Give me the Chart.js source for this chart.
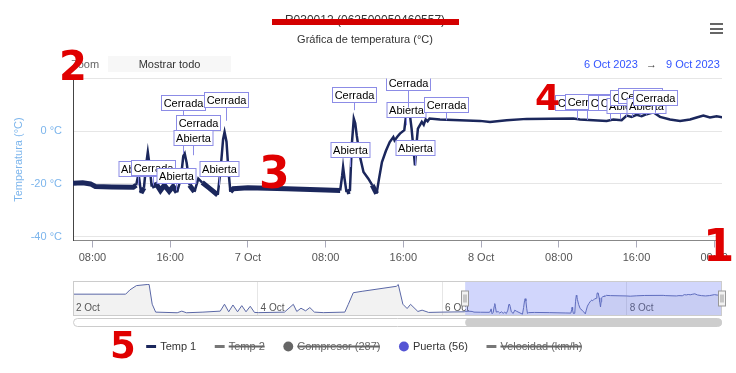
<!DOCTYPE html>
<html>
<head>
<meta charset="utf-8">
<script src="https://cdn.jsdelivr.net/npm/chart.js@4.4.0/dist/chart.umd.min.js"></script>
<style>
  html, body { margin: 0; padding: 0; background: #fff; }
  #wrap { position: relative; width: 736px; height: 373px; font-family: "Liberation Sans", Arial, sans-serif; }
  #mainChart { position: absolute; left: 0; top: 0; }
  #navChart { position: absolute; left: 0; top: 270px; }
  .ov { position: absolute; white-space: nowrap; font-size: 11px; line-height: 14px; }
  .red { position: absolute; color: #e00000; font-family: "DejaVu Sans", sans-serif; font-weight: bold; line-height: 1; z-index: 5; }
  .bar { position: absolute; left: 710px; width: 13px; height: 2px; background: #666; }
</style>
</head>
<body>
<div id="wrap">
  <canvas id="mainChart" width="736" height="373"></canvas>
  <canvas id="navChart" width="736" height="62"></canvas>

  <div style="position:absolute;left:272px;top:19px;width:187px;height:6px;background:#d40000;"></div>
  <div class="bar" style="top:23px"></div>
  <div class="bar" style="top:27.5px"></div>
  <div class="bar" style="top:32px"></div>

  <div class="ov" style="left:71px;top:57px;color:#666;">Zoom</div>
  <div class="ov" style="left:108px;top:56px;width:123px;height:16px;line-height:16px;background:#f7f7f7;color:#333;text-align:center;">Mostrar todo</div>
  <div class="ov" style="left:584px;top:57px;color:#3355ff;">6 Oct 2023</div>
  <div class="ov" style="left:646px;top:57px;color:#333;">&rarr;</div>
  <div class="ov" style="left:666px;top:57px;color:#3355ff;">9 Oct 2023</div>

  <div class="red" style="left:703px;top:223px;font-size:45px;">1</div>
  <div class="red" style="left:59px;top:46px;font-size:40px;">2</div>
  <div class="red" style="left:259px;top:151px;font-size:44px;">3</div>
  <div class="red" style="left:535px;top:80px;font-size:36px;">4</div>
  <div class="red" style="left:110px;top:327px;font-size:37px;">5</div>
</div>

<script>
// hours since 6 Oct 2023 00:00
const xMin = 6;
const xMax = 72.8;
const xTickHours = [8, 16, 24, 32, 40, 48, 56, 64, 72];
const xTickLabels = ["08:00", "16:00", "7 Oct", "08:00", "16:00", "8 Oct", "08:00", "16:00", "00:00"];
const yMin = -41.5;
const yMax = 20;
const yTickValues = [-40, -20, 0, 20];

const tempHours = [6.0, 7.0, 7.8, 8.3, 10.0, 12.2, 12.5, 12.75, 13.0, 13.3, 13.55, 13.7, 13.85, 14.1, 14.6,
  15.0, 15.4, 15.9, 16.3, 16.7, 17.1, 17.35, 17.5, 17.7, 18.0, 18.5, 18.9, 19.3, 20.0, 20.9,
  21.2, 21.45, 21.6, 21.8, 22.0, 22.2, 22.5, 24.0, 28.0, 32.0, 33.5, 33.7, 33.8, 33.95, 34.15,
  34.5, 34.7, 34.9, 35.05, 35.2, 35.5, 35.9, 36.4, 36.8, 37.25, 37.5, 37.8, 38.2, 38.6, 38.97,
  39.1, 39.4, 39.65, 40.1, 40.25, 40.35, 40.6, 40.85, 41.0, 41.2, 41.35, 41.5, 41.9, 42.1, 42.3,
  42.5, 42.7, 43.77, 47.89, 48.92, 50.64, 52.7, 57.5, 58.18, 60.93, 61.61, 62.47, 62.99, 63.5, 64.02,
  64.53, 65.05, 65.73, 66.42, 67.45, 68.48, 69.51, 70.19, 70.88, 71.56, 72.25, 72.93];
const tempValues = [-19.8, -19.6, -20.0, -21.0, -21.2, -21.3, -20.5, -16.0, -23.5, -21.5, -12, -7.9, -12, -21.0, -20.2,
  -22.5, -20.5, -22.8, -21.0, -23.2, -18, -9.5, -8.5, -12, -20.5, -23.0, -18.0, -19.5, -21.5, -24.2,
  -14, -3, -0.3, -4, -15, -23.0, -21.8, -21.5, -21.8, -22.3, -22.5, -17, -13.6, -18, -23.1,
  -22.8, -5, 4.8, 3, -1.5, -9, -15.5, -18, -20.5, -23.7, -18, -11.7, -7.5, -4.1, -2.2,
  -3.5, -2.0, -0.9, 0.4, 5, 8.6, 8.5, 1, -5, -13, -5, 1.0, 3.6, 2.5, 4.5,
  3.8, 4.8, 4.45, 3.94, 3.56, 4.19, 4.7, 4.83, 4.45, 3.94, 4.45, 4.19, 5.97, 5.46, 6.22,
  5.72, 6.48, 7.24, 5.46, 4.45, 3.94, 4.45, 5.21, 5.97, 5.21, 5.72, 5.21];

// Puerta events (flags)
const flagHours = [12.74, 14.23, 16.6, 17.32, 18.4, 18.9, 20.98, 21.75, 34.56, 34.93, 40.25, 40.51, 41.23, 44.44,
  57.87, 58.9, 61.24, 62.3, 62.9, 63.5, 64.36, 64.97, 65.87];
const flagTexts = ["Abierta", "Cerrada", "Abierta", "Cerrada", "Abierta", "Cerrada", "Abierta", "Cerrada", "Abierta", "Cerrada",
  "Abierta", "Cerrada", "Abierta", "Cerrada", "Cerrada", "Cerrada", "Cerrada", "Cerrada", "Abierta", "Cerrada",
  "Cerrada", "Abierta", "Cerrada"];
const flagTops = [-11.4, -11.0, -14.1, 13.7, 0.4, 6.1, -11.4, 15.0, -4.1, 16.9, 11.2, 21.3, -3.4, 13.1,
  13.7, 14.1, 13.7, 13.7, 12.6, 15.6, 16.4, 12.6, 15.6];
const flagValues = [-20.5, -20.6, -22.5, -8.5, -9.1, 0.5, -20.6, 4, -13.6, 8, 2.3, 9, -13, 4.2,
  4.5, 4.3, 4.2, 4.5, 5.5, 5.5, 6, 6.3, 7];

// navigator: hours since 2 Oct 2023 00:00
const navOffset = 96;
const navMax = 168.8;
const navTickHours = [0, 48, 96, 144];
const navTickLabels = ["2 Oct", "4 Oct", "6 Oct", "8 Oct"];
const navHours = [0, 13.7, 14.8, 16.5, 19.3, 19.8, 20.6, 21.5, 27.1, 28.3, 29.5, 33.8, 38.3, 39.4, 40.5,
  41.6, 42.8, 43.9, 45.0, 46.1, 47.2, 48.3, 55, 57.3, 58.2, 59.3, 60.5, 61.6, 62.8, 65.1,
  70.7, 71.6, 72.9, 75.2, 84.1, 84.6, 85.8, 86.9, 87.8, 89.7, 90.8, 92.5, 96, 101.9];
const navTemps = [6.7, 6.7, 13.3, 19.9, 21.6, 21.6, -8.8, -21, -22, -19.5, -22, -21, -19.5, -8.8, -20.5,
  -10, -20.5, -11, -20.5, -12, -21.5, -21.8, -21, -9, -20, -15, -19, -14, -21, -21.8,
  -21, -9, 8.9, 11.1, 18.8, 21.6, -8.8, -15.5, -9, -20, -18, -21.5, -21, -20.5];

const FONT = '"Liberation Sans", Arial, sans-serif';
Chart.defaults.font.family = FONT;

const temp1Points = tempHours.map((h, i) => ({ x: h, y: tempValues[i] }));
const flagPoints = flagHours.map((h, i) => ({ x: h, y: flagValues[i] }));

const flagsPlugin = {
  id: "flags",
  afterDatasetsDraw(chart) {
    const { ctx, chartArea: a, scales: { x, y } } = chart;
    ctx.save();
    ctx.beginPath();
    ctx.rect(a.left, a.top, a.right - a.left, a.bottom - a.top);
    ctx.clip();
    ctx.font = "11px " + FONT;
    ctx.lineWidth = 1;
    ctx.strokeStyle = "#8c8ce6";
    ctx.textAlign = "center";
    ctx.textBaseline = "middle";
    flagHours.forEach((h, i) => {
      const cx = Math.round(x.getPixelForValue(h)) + 0.5;
      const top = Math.round(y.getPixelForValue(flagTops[i])) + 0.5;
      const py = y.getPixelForValue(flagValues[i]);
      const w = Math.round(ctx.measureText(flagTexts[i]).width + 4);
      const hgt = 15;
      ctx.beginPath();
      ctx.moveTo(cx, top + hgt);
      ctx.lineTo(cx, py);
      ctx.stroke();
      ctx.fillStyle = "#fff";
      ctx.fillRect(cx - w / 2, top, w, hgt);
      ctx.strokeRect(cx - w / 2, top, w, hgt);
      ctx.fillStyle = "#000";
      ctx.fillText(flagTexts[i], cx, top + hgt / 2 + 0.5);
    });
    ctx.restore();
  }
};

new Chart(document.getElementById("mainChart"), {
  type: "line",
  data: {
    datasets: [
      {
        label: "Temp 1",
        data: temp1Points,
        borderColor: "#1b275c",
        backgroundColor: "#1b275c",
        borderWidth: 2.5,
        pointRadius: 0,
        pointStyle: "line",
        tension: 0,
        segment: {
          borderWidth: (c) => (c.p0.parsed.y < -18.5 && c.p1.parsed.y < -18.5 ? 5 : 2.5)
        }
      },
      { label: "Temp 2", data: [], hidden: true, borderColor: "#777", backgroundColor: "#777", pointStyle: "line" },
      { label: "Compresor (287)", type: "scatter", data: [], hidden: true, borderColor: "#666", backgroundColor: "#666", pointStyle: "circle" },
      { label: "Puerta (56)", type: "scatter", data: flagPoints, borderColor: "#5454d4", backgroundColor: "#5454d4", pointRadius: 0, pointStyle: "circle" },
      { label: "Velocidad (km/h)", data: [], hidden: true, borderColor: "#777", backgroundColor: "#777", pointStyle: "line" }
    ]
  },
  options: {
    responsive: false,
    animation: false,
    layout: { padding: { left: 8, right: 14, top: 0, bottom: 11 } },
    scales: {
      x: {
        type: "linear",
        min: xMin,
        max: xMax,
        afterBuildTicks: (s) => { s.ticks = xTickHours.map((v) => ({ value: v })); },
        afterFit: (s) => { s.height = 80.5; },
        ticks: {
          autoSkip: false,
          maxRotation: 0,
          color: "#555",
          font: { size: 11 },
          padding: 4,
          callback: (v, i) => xTickLabels[i]
        },
        grid: { drawOnChartArea: false, drawTicks: true, tickLength: 7, color: "#aab" },
        border: { color: "#888" }
      },
      y: {
        min: yMin,
        max: yMax,
        afterBuildTicks: (s) => { s.ticks = yTickValues.map((v) => ({ value: v })); },
        afterFit: (s) => { s.width = 65; },
        ticks: {
          padding: 11,
          color: "#7cb5ec",
          font: { size: 11 },
          callback: (v) => (v === 20 ? "" : v + " °C")
        },
        grid: { color: "#e6e6e6", drawTicks: false },
        border: { color: "#444" },
        title: { display: true, text: "Temperatura (°C)", color: "#7cb5ec", font: { size: 11 }, padding: 4 }
      }
    },
    plugins: {
      title: {
        display: true,
        text: "R030012 (062500050460557)",
        color: "#333",
        font: { size: 12, weight: "normal" },
        padding: { top: 13, bottom: 5 }
      },
      subtitle: {
        display: true,
        text: "Gráfica de temperatura (°C)",
        color: "#333",
        font: { size: 11 },
        padding: { top: 1, bottom: 32 }
      },
      tooltip: { enabled: false },
      legend: {
        position: "bottom",
        labels: {
          usePointStyle: true,
          boxWidth: 7,
          boxHeight: 7,
          padding: 20,
          font: { size: 11 },
          color: "#333",
          generateLabels: (chart) => Chart.defaults.plugins.legend.labels.generateLabels(chart).map((item) => {
            const ds = chart.data.datasets[item.datasetIndex];
            item.pointStyle = ds.pointStyle;
            item.lineWidth = ds.pointStyle === "line" ? 3 : 0;
            item.fillStyle = ds.backgroundColor;
            item.strokeStyle = ds.borderColor;
            item.fontColor = item.hidden ? "#666" : "#333";
            return item;
          })
        }
      }
    }
  },
  plugins: [flagsPlugin]
});

// navigator
const navPoints = navHours.map((h, i) => ({ x: h, y: navTemps[i] }))
  .concat(tempHours.map((h, i) => ({ x: h + navOffset, y: tempValues[i] })));

const navPlugin = {
  id: "navExtras",
  afterDraw(chart) {
    const { ctx, chartArea: a, scales: { x } } = chart;
    const x0 = x.getPixelForValue(xMin + navOffset);
    const x1 = Math.min(x.getPixelForValue(xMax + navOffset), a.right);
    const mid = (a.top + a.bottom) / 2;
    ctx.save();
    ctx.font = "10px " + FONT;
    ctx.fillStyle = "#555";
    ctx.textAlign = "left";
    ctx.textBaseline = "middle";
    navTickHours.forEach((h, i) => {
      ctx.fillText(navTickLabels[i], x.getPixelForValue(h) + 3, a.bottom - 8);
    });
    ctx.fillStyle = "rgba(102,120,245,0.3)";
    ctx.fillRect(x0, a.top, x1 - x0, a.bottom - a.top);
    ctx.strokeStyle = "#ccc";
    ctx.lineWidth = 1;
    ctx.strokeRect(a.left + 0.5, a.top + 0.5, a.right - a.left - 1, a.bottom - a.top - 1);
    [x0, x1].forEach((hx) => {
      const rx = Math.round(hx) - 3.5;
      ctx.fillStyle = "#f2f2f2";
      ctx.strokeStyle = "#999";
      ctx.fillRect(rx, mid - 7.5, 7, 15);
      ctx.strokeRect(rx, mid - 7.5, 7, 15);
      ctx.beginPath();
      ctx.moveTo(rx + 2.5, mid - 4); ctx.lineTo(rx + 2.5, mid + 4);
      ctx.moveTo(rx + 4.5, mid - 4); ctx.lineTo(rx + 4.5, mid + 4);
      ctx.stroke();
    });
    const sy = a.bottom + 2.5;
    ctx.beginPath();
    ctx.roundRect(a.left + 0.5, sy, a.right - a.left - 1, 8, 4);
    ctx.fillStyle = "#fff";
    ctx.fill();
    ctx.strokeStyle = "#ccc";
    ctx.stroke();
    ctx.beginPath();
    ctx.roundRect(x0, sy, x1 - x0, 8, 4);
    ctx.fillStyle = "#cdcdcd";
    ctx.fill();
    ctx.restore();
  }
};

new Chart(document.getElementById("navChart"), {
  type: "line",
  data: {
    datasets: [{
      data: navPoints,
      borderColor: "#5a67a6",
      borderWidth: 1,
      backgroundColor: "rgba(0,0,0,0.05)",
      fill: "start",
      pointRadius: 0,
      tension: 0
    }]
  },
  options: {
    responsive: false,
    animation: false,
    layout: { padding: { left: 73, right: 14, top: 11, bottom: 16 } },
    scales: {
      x: {
        type: "linear",
        min: 0,
        max: navMax,
        afterBuildTicks: (s) => { s.ticks = navTickHours.map((v) => ({ value: v })); },
        afterFit: (s) => { s.height = 0; },
        ticks: { display: false },
        grid: { color: "#e6e6e6", drawTicks: false },
        border: { display: false }
      },
      y: { display: false, min: -27, max: 27 }
    },
    plugins: { legend: { display: false }, tooltip: { enabled: false } }
  },
  plugins: [navPlugin]
});
</script>
</body>
</html>
